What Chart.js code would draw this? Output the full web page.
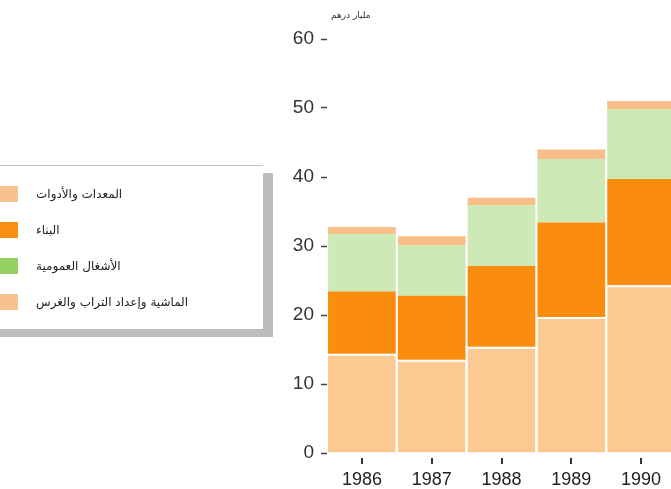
<!DOCTYPE html>
<html>
<head>
<meta charset="utf-8">
<script src="https://cdn.jsdelivr.net/npm/chart.js@4/dist/chart.umd.min.js"></script>
<style>
  html, body { margin: 0; padding: 0; background: #fff; overflow: hidden; }
  #wrap { position: relative; width: 671px; height: 489px; overflow: hidden; }
  #chart-box { position: absolute; left: 0; top: 0; width: 676px; height: 489px; }
  #unit {
    position: absolute; left: 331px; top: 10px;
    font: 9px "DejaVu Sans", sans-serif; color: #333; direction: rtl;
  }
  #legend {
    position: absolute; left: -12px; top: 165px; width: 275px; height: 163px;
    background: #fff; border-top: 1px solid #c4c4c4;
    box-shadow: 10px 8px 0 #bdbdbd;
  }
  .item { position: absolute; left: 12px; height: 16px; }
  .swatch { position: absolute; left: 0; top: 0; width: 18px; height: 16px; }
  .label {
    position: absolute; left: 36px; top: 0; white-space: nowrap;
    font: 12px "DejaVu Sans", sans-serif; color: #222; direction: rtl; line-height: 16px;
  }
</style>
</head>
<body>
<div id="wrap">
  <div id="chart-box"><canvas id="chart-investment"></canvas></div>
  <div id="unit">مليار درهم</div>
  <div id="legend"></div>
</div>
<script>
const years = ["1986", "1987", "1988", "1989", "1990"];
const seriesNames = [
  "المعدات والأدوات",
  "البناء",
  "الأشغال العمومية",
  "الماشية وإعداد التراب والغرس",
];
const equipment = [14.4, 13.5, 15.4, 19.7, 24.3];
const building = [9.0, 9.3, 11.7, 13.7, 15.4];
const publicWorks = [8.3, 7.3, 8.8, 9.2, 10.1];
const livestock = [1.05, 1.3, 1.1, 1.4, 1.2];
const yTicks = [0, 10, 20, 30, 40, 50, 60];

const barColors = ["#fcc992", "#fa8c0e", "#cdeab6", "#f9bf88"];
const legendColors = ["#f8c290", "#f88f12", "#95d263", "#f8c290"];

const seriesValues = [equipment, building, publicWorks, livestock];

// legend on the left, same order as the datasets
const legendEl = document.getElementById("legend");
seriesNames.forEach((name, i) => {
  const item = document.createElement("div");
  item.className = "item";
  item.style.top = 20 + i * 36 + "px";
  item.innerHTML =
    '<div class="swatch" style="background:' + legendColors[i] + '"></div>' +
    '<div class="label">' + name + "</div>";
  legendEl.appendChild(item);
});

// short marks under each year, a few px below the bars
const yearMarks = {
  id: "yearMarks",
  afterDraw(chart) {
    const xScale = chart.scales.x;
    const c = chart.ctx;
    const bottom = chart.chartArea.bottom;
    c.save();
    c.fillStyle = "#333";
    xScale.ticks.forEach((t, i) => {
      const px = Math.round(xScale.getPixelForTick(i));
      c.fillRect(px - 1, bottom + 5, 2, 6);
    });
    c.restore();
  },
};

const ctx = document.getElementById("chart-investment").getContext("2d");

new Chart(ctx, {
  type: "bar",
  data: {
    labels: years,
    datasets: seriesNames.map((name, i) => ({
      label: name,
      data: seriesValues[i],
      backgroundColor: barColors[i],
      borderColor: "#ffffff",
      borderWidth: i === 0 ? { top: 2 } : 0,
      borderSkipped: false,
      barPercentage: 1,
      categoryPercentage: 0.97,
    })),
  },
  options: {
    responsive: true,
    maintainAspectRatio: false,
    animation: false,
    layout: {
      padding: { top: 39, left: 287, right: 0, bottom: 0 },
    },
    plugins: {
      legend: { display: false },
      tooltip: { enabled: false },
    },
    scales: {
      x: {
        stacked: true,
        border: { display: false },
        grid: {
          display: false,
        },
        ticks: {
          color: "#222",
          padding: 8,
          font: { family: "Liberation Sans, Arial, sans-serif", size: 18 },
        },
        afterFit: (scale) => { scale.height = 36; },
      },
      y: {
        stacked: true,
        min: 0,
        max: 60,
        border: { display: false },
        grid: {
          drawOnChartArea: false,
          drawTicks: true,
          tickLength: 6,
          tickColor: "#444",
          tickWidth: 1.5,
        },
        ticks: {
          stepSize: 10,
          color: "#333",
          padding: 7,
          font: { family: "Liberation Sans, Arial, sans-serif", size: 19 },
          callback: (v) => (yTicks.includes(v) ? v : ""),
        },
        afterFit: (scale) => { scale.width = 40; },
      },
    },
  },
  plugins: [yearMarks],
});
</script>
</body>
</html>
